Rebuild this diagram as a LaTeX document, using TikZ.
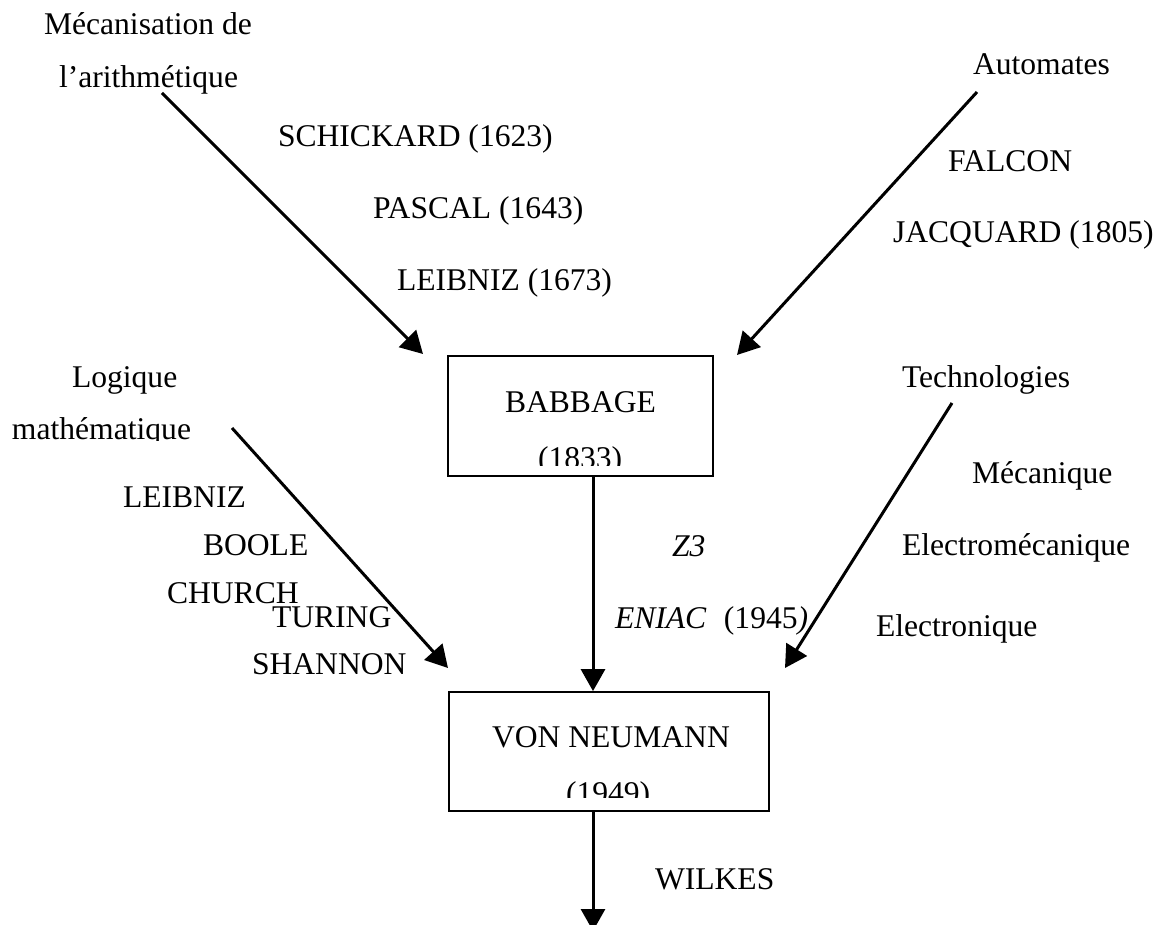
\documentclass[tikz,border=0pt]{standalone}
\usepackage{fontspec}
\setmainfont{Liberation Serif}
\usetikzlibrary{arrows.meta}
\tikzset{
  lbl/.style={anchor=base west, inner sep=0pt, outer sep=0pt, font=\fontsize{31.6}{38}\selectfont},
  boxnode/.style={draw, line width=1.8pt, inner sep=0pt, rectangle},
  arr/.style={line width=3pt, -{Triangle[length=22pt,width=24pt]}}
}
\begin{document}
\begin{tikzpicture}[x=1pt,y=-1pt]
\useasboundingbox (0,0) rectangle (1162,925);
% boxes
\node[boxnode, minimum width=265pt, minimum height=120pt] (babbage) at (580.5,416) {};
\node[boxnode, minimum width=320pt, minimum height=119pt] (vn) at (609,751.5) {};
% texts in boxes
\node[lbl] (tbab) at (505,412) {BABBAGE};
\node[lbl] (tvn) at (492,747) {VON NEUMANN};
\begin{scope}
\clip (449,420) rectangle (712,465);
\node[lbl] (tbabyr) at (538,468) {(1833)};
\end{scope}
\begin{scope}
\clip (450,760) rectangle (768,797);
\node[lbl] (tvnyr) at (566,803) {(1949)};
\end{scope}
% top-left group
\node[lbl] (mec1) at (44,35) {Mécanisation de};
\node[lbl] (mec2) at (59,88) {l’arithmétique};
\node[lbl] (schick) at (278,147) {SCHICKARD (1623)};
\node[lbl] (pascal) at (373,219) {PASCAL (1643)};
\node[lbl] (leib1) at (397,291) {LEIBNIZ (1673)};
% top-right group
\node[lbl] (autom) at (973,75) {Automates};
\node[lbl] (falcon) at (948,172) {FALCON};
\node[lbl] (jacq) at (893,243) {JACQUARD (1805)};
% left-middle group
\node[lbl] (logique) at (72,387) {Logique};
\begin{scope}
\clip (0,400) rectangle (300,440);
\node[lbl] (math) at (12,439) {mathématique};
\end{scope}
\node[lbl] (leib2) at (123,507) {LEIBNIZ};
\node[lbl] (boole) at (203,555) {BOOLE};
\node[lbl] (church) at (167,603) {CHURCH};
\node[lbl] (turing) at (272,627) {TURING};
\node[lbl] (shannon) at (252,674) {SHANNON};
% right-middle group
\node[lbl] (techno) at (902,387) {Technologies};
\node[lbl] (mecan) at (972,483) {Mécanique};
\node[lbl] (electm) at (902,555) {Electromécanique};
\node[lbl] (electr) at (876,636) {Electronique};
% middle
\node[lbl] (z3) at (672,556) {\textit{Z3}};
\node[lbl] (eniac) at (615,628) {\textit{ENIAC}\hspace{0.55em}(1945\textit{)}};
\node[lbl] (wilkes) at (655,889) {WILKES};
% connector end points
\coordinate (a1s) at (162,93);
\coordinate (a1e) at (423,354);
\coordinate (a2s) at (977,92);
\coordinate (a2e) at (737,355);
\coordinate (a3s) at (232,428);
\coordinate (a3e) at (448,668);
\coordinate (a4s) at (952,403);
\coordinate (a4e) at (785,668);
\coordinate (bot) at (593,931);
% connectors
\draw[arr] (a1s) -- (a1e);
\draw[arr] (a2s) -- (a2e);
\draw[arr] (a3s) -- (a3e);
\draw[arr] (a4s) -- (a4e);
\draw[arr] (babbage.south -| 593,0) -- (vn.north -| 593,0);
\draw[arr] (vn.south -| 593,0) -- (bot);
\end{tikzpicture}
\end{document}
